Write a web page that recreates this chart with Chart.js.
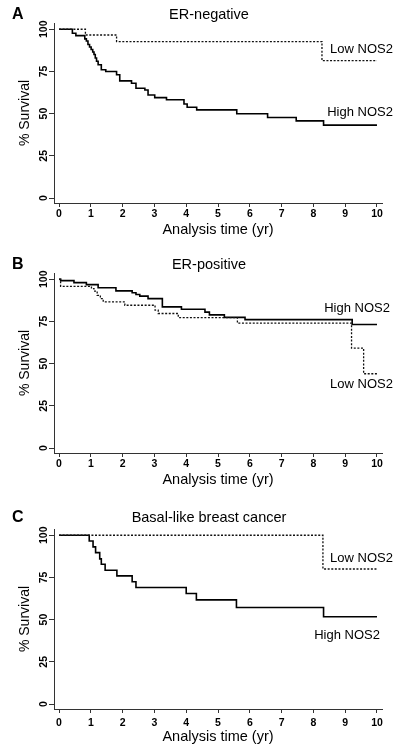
<!DOCTYPE html>
<html>
<head>
<meta charset="utf-8">
<script src="https://cdn.jsdelivr.net/npm/chart.js@4.4.1/dist/chart.umd.min.js"></script>
<style>
  body { margin: 0; background: #fff; overflow: hidden; }
  canvas { position: absolute; left: 0; }
</style>
</head>
<body>
<canvas id="panelA" width="412" height="250" style="top:0px"></canvas>
<canvas id="panelB" width="412" height="250" style="top:250px"></canvas>
<canvas id="panelC" width="412" height="250" style="top:505px"></canvas>
<script>
// tick labels
const xTicks = [0, 1, 2, 3, 4, 5, 6, 7, 8, 9, 10];
const yTicks = [0, 25, 50, 75, 100];

// A: ER-negative
const aHighT = [0, 0.42, 0.53, 0.81, 0.86, 0.91, 0.96, 1.01, 1.06, 1.1, 1.14, 1.18, 1.23, 1.33, 1.47, 1.81, 1.91, 2.28, 2.42, 2.7, 2.8, 3.01, 3.38, 3.93, 4.03, 4.33, 5.59, 6.56, 7.46, 8.32, 10];
const aHighS = [100, 97.6, 96.2, 94.3, 93, 91, 89.5, 88, 86.5, 85, 83, 81, 79, 76, 75, 73, 69.4, 68, 65, 64, 61, 59.5, 58.2, 55.7, 53.8, 52.2, 49.9, 47.7, 45.7, 43.2, 43.2];
const aLowT = [0, 0.83, 1.81, 8.27, 10];
const aLowS = [100, 96.6, 92.7, 81.4, 81.4];

// B: ER-positive
const bHighT = [0, 0.05, 0.47, 0.86, 1.23, 1.79, 2.3, 2.42, 2.54, 2.8, 3.25, 3.85, 4.59, 4.73, 5.2, 5.85, 9.22, 10];
const bHighS = [100, 99.2, 98, 96.8, 95, 93.1, 92, 91, 90, 88.5, 83.6, 82.2, 80.5, 78.9, 77.4, 76.1, 73.2, 73.2];
const bLowT = [0, 0.05, 1.02, 1.1, 1.2, 1.3, 1.39, 2.07, 3.02, 3.12, 3.75, 5.61, 9.2, 9.58, 10];
const bLowS = [100, 95.8, 94.5, 93, 90.5, 88.5, 86.6, 84.6, 81.7, 79.7, 77.3, 74, 59.2, 44, 44];

// C: Basal-like
const cHighT = [0, 0.95, 1.07, 1.15, 1.28, 1.33, 1.45, 1.82, 2.3, 2.42, 4.0, 4.32, 5.58, 8.32, 10];
const cHighS = [100, 96.6, 93.1, 89.7, 86, 82.8, 79.3, 75.9, 72.4, 69, 65.5, 61.7, 57.2, 51.7, 51.7];
const cLowT = [0, 8.3, 10];
const cLowS = [100, 80, 80];

const FONT = "'Liberation Sans', Arial, Helvetica, sans-serif";
const TICKFONT = "'Liberation Sans Narrow', 'Liberation Sans', Arial, sans-serif";

const pts = (t, s) => t.map((v, i) => ({ x: v, y: s[i] }));

// letter, title and curve labels
const panelText = {
  id: 'panelText',
  afterDraw(chart, args, o) {
    const c = chart.ctx, xs = chart.scales.x, ys = chart.scales.y;
    c.save();
    c.fillStyle = '#000';
    c.textBaseline = 'middle';
    c.font = 'bold 16px ' + FONT;
    c.textAlign = 'left';
    c.fillText(o.letter, 12, o.titleY);
    c.font = '14.5px ' + FONT;
    c.textAlign = 'center';
    c.fillText(o.title, chart.width / 2 + 3, o.titleY);
    c.font = '13px ' + FONT;
    c.textAlign = 'right';
    o.labels.forEach(l => {
      c.fillText(l.text, xs.getPixelForValue(10) + l.dx, ys.getPixelForValue(l.y));
    });
    c.restore();
  }
};

function makePanel(id, letter, title, high, low, labels, opt) {
  new Chart(document.getElementById(id), {
    type: 'line',
    data: {
      datasets: [
        { label: 'Low NOS2', data: low, borderColor: '#111', borderWidth: 1.3, borderDash: [2, 1.6], stepped: true, pointRadius: 0, fill: false },
        { label: 'High NOS2', data: high, borderColor: '#000', borderWidth: 1.6, stepped: true, pointRadius: 0, fill: false }
      ]
    },
    options: {
      responsive: false,
      animation: false,
      devicePixelRatio: 1,
      layout: { padding: { top: opt.top, right: 30, left: 0, bottom: 0 } },
      plugins: {
        legend: { display: false },
        tooltip: { enabled: false },
        panelText: { letter: letter, title: title, titleY: opt.titleY, labels: labels }
      },
      scales: {
        x: {
          type: 'linear',
          min: -0.158,
          max: 10.158,
          afterBuildTicks: s => { s.ticks = xTicks.map(v => ({ value: v })); },
          afterFit: s => { s.height = 250 - 203 - opt.top + 23; },
          grid: { drawOnChartArea: false, drawTicks: true, tickLength: 4, color: '#333' },
          border: { display: true, color: '#333', width: 1 },
          ticks: { padding: opt.xpad, color: '#000', font: { family: TICKFONT, size: 10.5, weight: 'bold' }, maxRotation: 0, autoSkip: false },
          title: { display: true, text: 'Analysis time (yr)', color: '#000', font: { family: FONT, size: 14.5 }, padding: { top: 0, bottom: opt.xtitle } }
        },
        y: {
          type: 'linear',
          min: -2.96,
          max: 103.7,
          afterBuildTicks: s => { s.ticks = yTicks.map(v => ({ value: v })); },
          afterFit: s => { s.width = 54; },
          grid: { drawOnChartArea: false, drawTicks: true, tickLength: 5, color: '#333' },
          border: { display: true, color: '#333', width: 1 },
          ticks: { padding: -3.5, color: '#000', minRotation: 90, maxRotation: 90, crossAlign: 'center', font: { family: TICKFONT, size: 10.5, weight: 'bold' } },
          title: { display: true, text: '% Survival', color: '#000', font: { family: FONT, size: 14 }, padding: { top: 16.6, bottom: 0 } }
        }
      }
    },
    plugins: [panelText]
  });
}

makePanel('panelA', 'A', 'ER-negative', pts(aHighT, aHighS), pts(aLowT, aLowS),
  [{ text: 'Low NOS2', y: 88.3, dx: 16 }, { text: 'High NOS2', y: 50.5, dx: 16 }],
  { top: 23, titleY: 15, xpad: 1, xtitle: 11.3 });

makePanel('panelB', 'B', 'ER-positive', pts(bHighT, bHighS), pts(bLowT, bLowS),
  [{ text: 'High NOS2', y: 82.8, dx: 13 }, { text: 'Low NOS2', y: 37.5, dx: 16 }],
  { top: 23, titleY: 15, xpad: 1, xtitle: 11.3 });

makePanel('panelC', 'C', 'Basal-like breast cancer', pts(cHighT, cHighS), pts(cLowT, cLowS),
  [{ text: 'Low NOS2', y: 86.4, dx: 16 }, { text: 'High NOS2', y: 40.4, dx: 3 }],
  { top: 24, titleY: 13, xpad: 4, xtitle: 9.6 });
</script>
</body>
</html>
